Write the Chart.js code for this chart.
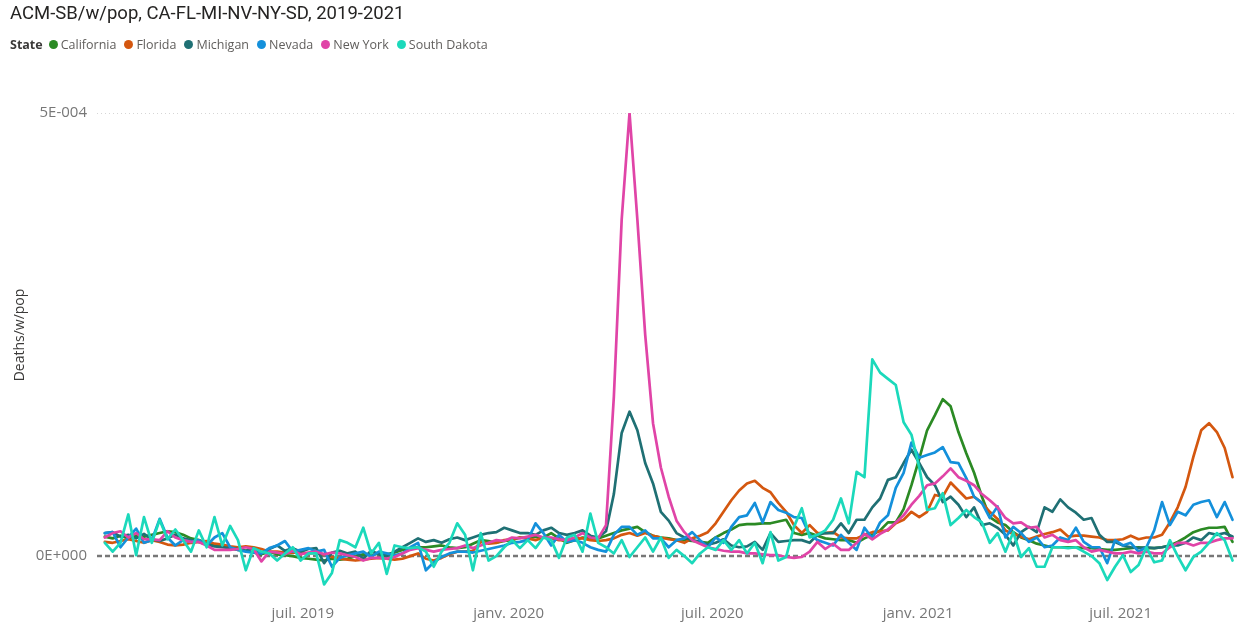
<!DOCTYPE html>
<html>
<head>
<meta charset="utf-8">
<script src="https://cdn.jsdelivr.net/npm/chart.js@4.4.0/dist/chart.umd.min.js"></script>
<style>
    html, body { margin: 0; padding: 0; background: #fff; }
    #wrap { position: relative; width: 1244px; height: 625px; overflow: hidden; }
    #title { position: absolute; left: 10px; top: 2px; font: 18.5px Roboto, sans-serif; color: #252423; white-space: nowrap; }
    #legend { position: absolute; left: 10px; top: 36px; font: 12.5px "Open Sans", sans-serif; color: #605E5C; display: flex; align-items: center; white-space: nowrap; }
    #legend b { color: #3b3a39; margin-right: 6px; }
    .item { display: flex; align-items: center; margin-right: 8px; }
    .dot { width: 9px; height: 9px; border-radius: 50%; margin-right: 3px; }
    canvas { position: absolute; left: 0; top: 0; }
</style>
</head>
<body>
<div id="wrap">
    <canvas id="chart" width="1244" height="625"></canvas>
    <div id="title">ACM-SB/w/pop, CA-FL-MI-NV-NY-SD, 2019-2021</div>
    <div id="legend"><b>State</b></div>
</div>
<script>
// weekly series, first week ending 2019-01-05, values in units of 1e-5 deaths per population
const WEEK_START = '2019-01-05';
const AXIS_ORIGIN = '2019-01-01';
const UNIT = 1e-5;

const STATES = ['California', 'Florida', 'Michigan', 'Nevada', 'New York', 'South Dakota'];
const COLORS = ['#2B8A24', '#D4570F', '#1F7074', '#1490DB', '#E044A7', '#1BD9BB'];

const california = [
    2.2, 2.0, 2.3, 2.0, 2.3, 2.2, 2.4, 2.6, 2.8, 2.7, 2.4, 2.0, 1.8, 1.5, 1.3, 1.2, 0.9, 0.7, 0.6, 0.4, 0.2,
    0.5, 0.2, 0.1, 0.0, -0.2, -0.3, -0.4, -0.5, -0.3, -0.4, -0.3, 0.0, 0.2, 0.1, 0.3, 0.2, 0.4, 0.7, 0.9, 1.0,
    1.0, 1.1, 1.2, 1.0, 0.9, 1.0, 1.4, 1.8, 1.7, 1.5, 1.7, 1.8, 2.1, 2.0, 2.2, 2.1, 2.6, 2.0, 1.5, 1.8, 2.1, 2.0, 2.0,
    2.3, 2.6, 2.9, 3.1, 3.3, 2.7, 2.3, 2.1, 2.0, 1.8, 1.8, 1.7,
    1.6, 1.5, 2.1, 2.6, 3.0, 3.5, 3.6, 3.6, 3.7, 3.7, 3.9, 4.1, 2.6, 2.4, 2.6, 2.3, 2.0, 1.9, 1.8, 1.8, 1.5, 2.0, 2.4,
    2.9, 3.8, 3.8, 5.3, 8.0, 11.0, 14.2, 15.9, 17.7, 16.9, 14.0, 11.6, 9.4, 6.7, 4.4, 3.8,
    3.5, 2.7, 2.1, 1.8, 1.4, 1.2, 1.0, 1.0, 1.0, 1.0, 0.9, 0.9, 0.8, 0.7, 0.7, 0.8, 0.9, 1.0, 0.9, 0.9,
    1.0, 1.2, 1.6, 2.1, 2.7, 3.0, 3.2, 3.2, 3.3, 1.6
];
const florida = [
    1.6, 1.5, 1.7, 1.9, 1.7, 1.5, 1.8, 1.6, 1.3, 1.2, 1.3, 1.5, 1.6, 1.7, 1.4, 1.3, 1.1, 1.0, 1.1, 1.0, 0.8,
    0.5, 0.5, 0.4, 0.4, 0.4, 0.3, 0.4, 0.2, -0.1, -0.3, -0.4, -0.5, -0.4, -0.3, -0.2, -0.3, -0.4, -0.3, 0.0, 0.3,
    -0.3, -0.5, -0.2, 0.2, 0.5, 0.5, 0.6, 1.6, 1.4, 1.5, 1.8, 1.9, 2.1, 2.0, 1.8, 2.1, 2.0, 1.8, 1.8, 2.0, 2.0, 1.8, 1.7,
    1.8, 2.0, 2.4, 2.6, 2.3, 2.6, 2.3, 2.1, 1.9, 1.8, 1.5,
    2.0, 2.3, 2.7, 3.7, 5.0, 6.3, 7.4, 8.2, 8.5, 7.7, 7.2, 6.0, 5.0, 3.5, 2.6, 3.5, 2.6, 2.6, 2.7, 2.1, 2.0, 2.0,
    2.4, 2.7, 2.8, 2.9, 3.7, 4.1, 5.0, 4.4, 5.0, 6.9, 6.7, 8.3, 7.4, 6.5, 6.7, 6.0, 5.0, 4.2,
    2.9, 2.5, 2.2, 1.9, 2.2, 2.5, 2.7, 3.0, 2.2, 2.3, 2.3, 2.2, 2.1, 1.8, 1.8, 1.9, 2.3, 1.9, 2.1, 2.1,
    2.4, 3.8, 5.5, 7.8, 11.2, 14.2, 15.0, 14.0, 12.2, 8.9
];
const michigan = [
    2.6, 2.7, 2.2, 2.4, 2.0, 2.5, 1.9, 1.7, 2.0, 2.4, 2.0, 1.8, 1.6, 1.3, 1.1, 1.0, 0.9, 0.8, 0.6, 0.9, 0.3,
    0.8, 1.2, 0.6, 0.9, 0.5, 0.8, 0.9, -0.8, 0.4, 0.6, 0.3, 0.5, -0.3, 0.6, 0.2, 0.0, 0.5, 1.0, 1.5, 2.0,
    1.6, 1.8, 1.5, 1.9, 2.1, 1.8, 2.1, 2.4, 2.6, 2.7, 3.2, 2.9, 2.6, 2.6, 2.4, 2.9, 3.2, 2.6, 2.4, 2.6, 2.9, 2.3, 2.1,
    2.8, 7.0, 13.9, 16.3, 14.2, 10.5, 8.2, 5.0, 4.0, 2.6, 2.1, 1.8, 1.6, 1.3, 1.5, 1.9,
    1.2, 1.0, 1.1, 1.6, 0.7, 2.6, 1.6, 1.7, 1.8, 1.8, 1.5, 2.4, 2.6, 2.6, 3.7, 2.6, 4.1, 4.1, 5.5, 6.5,
    8.6, 8.9, 10.5, 12.0, 10.5, 8.9, 8.0, 6.1, 6.7, 5.8, 4.4, 5.5, 3.5, 3.7,
    3.2, 2.4, 1.2, 2.7, 3.3, 2.7, 5.5, 5.0, 6.4, 5.5, 4.9, 4.1, 4.3, 2.4, 1.6, 1.6, 1.2, 1.0, 0.9, 1.0,
    0.9, 1.0, 1.2, 1.2, 1.5, 2.1, 1.8, 2.6, 2.4, 2.6, 2.2
];
const nevada = [
    2.6, 2.7, 1.0, 2.1, 3.1, 1.5, 1.8, 4.2, 2.1, 1.2, 1.8, 1.6, 1.8, 1.2, 2.1, 2.6, 1.0, 0.7, 0.5,
    0.4, 0.3, 0.9, 1.2, 1.7, 0.5, 0.7, 0.9, 0.5, 0.7, -1.2, -0.2, 0.1, 0.3, 0.5, -0.1, 0.5, 0.3, 0.1, 0.3, 1.0, 1.5, -1.6,
    -0.7, -0.1, 0.3, 0.5, 0.5, 0.4, 0.6, 0.8, 1.0, 1.2, 1.5, 1.6, 1.8, 3.7, 2.6, 1.2, 2.4, 1.6, 1.8, 1.5,
    1.0, 0.7, 0.5, 2.4, 3.3, 3.3, 2.4, 2.9, 2.0, 2.0,
    1.0, 1.8, 2.0, 2.7, 1.8, 1.0, 2.1, 1.5, 3.3, 4.4, 4.6, 6.0, 3.8, 6.1, 5.2, 4.9, 4.4, 4.3, 2.4, 1.8, 1.5,
    1.2, 2.4, 1.5, 0.7, 3.2, 2.0, 3.8, 4.6, 7.7, 9.4, 12.8, 11.1, 11.4, 11.7, 12.3, 10.6, 10.5, 8.8, 6.7, 6.0, 4.3,
    5.6, 2.1, 3.3, 2.6, 1.6, 2.1, 1.0, 1.2, 2.1, 1.8, 3.2, 1.6, 1.0, 1.0, -0.8, 1.8, 1.2, 1.5, 0.5, 1.0,
    2.9, 6.1, 3.5, 5.0, 4.6, 5.8, 6.1, 6.3, 4.4, 6.1, 4.1
];
const newYork = [
    2.1, 2.6, 2.8, 2.1, 2.6, 1.9, 1.9, 1.8, 2.8, 2.1, 1.8, 1.6, 1.6, 1.2, 0.7, 0.7, 0.7, 0.8, 1.0,
    0.8, -0.6, 0.5, 0.4, 0.2, 0.6, 0.2, 0.4, 0.5, 0.2, 0.4, 0.3, 0.1, -0.1, -0.5, -0.2, -0.2, -0.3, -0.1, 0.3, 0.7, 0.9, 0.7,
    0.5, 0.7, 0.8, 0.9, 1.2, 0.9, 1.2, 1.5, 1.8, 1.7, 2.1, 2.0, 2.2, 2.4, 2.1, 2.1, 1.9, 1.8, 2.1, 2.6, 2.1, 2.0,
    3.5, 18.0, 38.0, 50.0, 38.0, 25.0, 15.0, 10.0, 6.7, 4.0, 2.7, 1.8, 1.4, 1.0, 0.8, 0.6, 0.5, 0.5, 0.3, 0.3,
    0.2, 0.1, 0.1, -0.1, -0.2, -0.1,
    0.5, 1.6, 0.8, 1.4, 0.7, 0.7, 1.5, 2.5, 1.9, 2.5, 3.0, 3.8, 4.6, 5.8, 6.8, 8.0, 8.2, 9.0, 9.9, 8.9,
    8.5, 8.0, 7.0, 6.3, 5.5, 4.3, 3.7, 3.8, 3.2, 3.3, 2.1, 2.4, 1.8, 1.6, 1.8, 1.0, 0.5, 0.7, 0.5, 0.3,
    0.3, 0.5, 0.3, 0.5, 0.3, 0.3, 1.0, 1.5, 1.5, 1.2, 1.5, 1.5, 1.8, 2.0, 2.0
];
const southDakota = [
    1.5, 0.5, 1.5, 4.7, 0.1, 4.4, 1.5, 4.1, 1.9, 3.0, 1.8, 0.5, 2.9, 1.0, 4.4, 1.2, 3.4, 1.8, -1.6, 0.9,
    0.5, 0.3, -0.5, 0.3, 1.0, -0.5, 0.3, 0.3, -3.2, -1.9, 1.8, 1.5, 1.0, 3.2, 0.3, 1.5, -2.0, 1.2, 1.0, 0.9, 1.0,
    0.5, -1.2, 0.5, 1.5, 3.7, 2.4, -1.6, 2.6, -0.5, 0.0, 1.0, 1.8, 0.9, 1.8, 0.9, 2.1, 1.8, -0.2, 2.1, 2.4,
    0.5, 4.8, 1.5, 1.0, 0.3, 1.8, -0.1, 1.0, 2.1, 0.5, 2.1, -0.2, 0.7, 0.0, -0.8, 0.3, 1.0,
    0.7, 1.8, 0.7, 1.8, 0.3, 1.5, -0.8, 2.7, -0.5, -0.1, 3.3, 5.4, 2.1, 2.4, 2.9, 4.1, 6.5, 3.7, 9.5, 8.9,
    22.2, 20.7, 20.0, 19.3, 15.1, 13.7, 10.0, 5.2, 5.4, 7.1, 3.5, 4.3, 5.2, 4.4, 3.8, 1.5,
    2.6, 0.5, 2.7, -0.1, 0.9, -1.2, -1.2, 1.0, 1.0, 0.9, 1.0, 0.5, 0.0, -0.8, -2.7, -1.2, 0.1, -1.8, -1.0, 1.0,
    -0.7, -0.5, 1.8, 0.0, -1.6, -0.1, 0.5, 1.5, 2.6, 1.8, -0.5
];
const SERIES = [california, florida, michigan, nevada, newYork, southDakota];

const X_TICK_DATES = ['2019-07-01', '2020-01-01', '2020-07-01', '2021-01-01', '2021-07-01'];
const X_TICK_LABELS = ['juil. 2019', 'janv. 2020', 'juil. 2020', 'janv. 2021', 'juil. 2021'];
const Y_TICKS = [0, 5e-4];
const Y_MIN = -3.6e-5;
const Y_MAX = 5e-4;

const DAY_MS = 86400000;
const dayOf = d => (Date.parse(d) - Date.parse(AXIS_ORIGIN)) / DAY_MS;
const firstDay = dayOf(WEEK_START);
const weekDays = california.map((_, i) => firstDay + 7 * i);

// Power BI style scientific labels, e.g. 5E-004
function sciLabel(v) {
    if (v === 0) return '0E+000';
    const e = Math.floor(Math.log10(Math.abs(v)) + 1e-9);
    const m = Math.round(v / Math.pow(10, e));
    return `${m}E${e < 0 ? '-' : '+'}${String(Math.abs(e)).padStart(3, '0')}`;
}

// legend in the page header
const legend = document.getElementById('legend');
STATES.forEach((name, i) => {
    const item = document.createElement('span');
    item.className = 'item';
    item.innerHTML = `<span class="dot" style="background:${COLORS[i]}"></span>${name}`;
    legend.appendChild(item);
});

const zeroLine = {
    id: 'zeroLine',
    beforeDatasetsDraw(chart) {
        const { ctx, chartArea, scales } = chart;
        const py = scales.y.getPixelForValue(0);
        ctx.save();
        ctx.strokeStyle = '#777777';
        ctx.lineWidth = 2.5;
        ctx.setLineDash([5, 3]);
        ctx.beginPath();
        ctx.moveTo(chartArea.left, py);
        ctx.lineTo(chartArea.right, py);
        ctx.stroke();
        ctx.restore();
    }
};

const yTitle = {
    id: 'yTitle',
    afterDraw(chart) {
        const ctx = chart.ctx;
        ctx.save();
        ctx.translate(20, 335);
        ctx.rotate(-Math.PI / 2);
        ctx.font = '14px "Open Sans", sans-serif';
        ctx.fillStyle = '#3b3a39';
        ctx.textAlign = 'center';
        ctx.textBaseline = 'middle';
        ctx.fillText('Deaths/w/pop', 0, 0);
        ctx.restore();
    }
};

const datasets = SERIES.map((values, i) => ({
    label: STATES[i],
    data: values.map((v, k) => ({ x: weekDays[k], y: v * UNIT })),
    borderColor: COLORS[i],
    backgroundColor: COLORS[i],
    borderWidth: 2.7,
    pointRadius: 0,
    tension: 0,
    borderJoinStyle: 'round',
    borderCapStyle: 'round',
    order: SERIES.length - i
}));

new Chart(document.getElementById('chart'), {
    type: 'line',
    data: { datasets },
    options: {
        responsive: false,
        animation: false,
        devicePixelRatio: 1,
        layout: { padding: { top: 113, right: 7, left: 0, bottom: 0 } },
        plugins: { legend: { display: false }, tooltip: { enabled: false } },
        scales: {
            x: {
                type: 'linear',
                min: firstDay - 7,
                max: weekDays[weekDays.length - 1] + 4,
                afterBuildTicks: scale => { scale.ticks = X_TICK_DATES.map(d => ({ value: dayOf(d) })); },
                afterFit: scale => { scale.height = 37; },
                grid: { display: false, drawTicks: false },
                border: { display: false },
                ticks: {
                    padding: 17,
                    maxRotation: 0,
                    autoSkip: false,
                    color: '#777777',
                    font: { family: '"Open Sans", sans-serif', size: 15 },
                    callback: (v, i) => X_TICK_LABELS[i]
                }
            },
            y: {
                min: Y_MIN,
                max: Y_MAX,
                afterBuildTicks: scale => { scale.ticks = Y_TICKS.map(v => ({ value: v })); },
                afterFit: scale => { scale.width = 97; },
                grid: {
                    drawTicks: false,
                    color: c => (c.tick && c.tick.value === 0) ? 'rgba(0,0,0,0)' : '#d6d6d6',
                    lineWidth: 1
                },
                border: { display: false, dash: [1, 3] },
                ticks: {
                    padding: 10,
                    color: '#777777',
                    font: { family: '"Open Sans", sans-serif', size: 15 },
                    callback: v => sciLabel(v)
                }
            }
        }
    },
    plugins: [zeroLine, yTitle]
});
</script>
</body>
</html>
